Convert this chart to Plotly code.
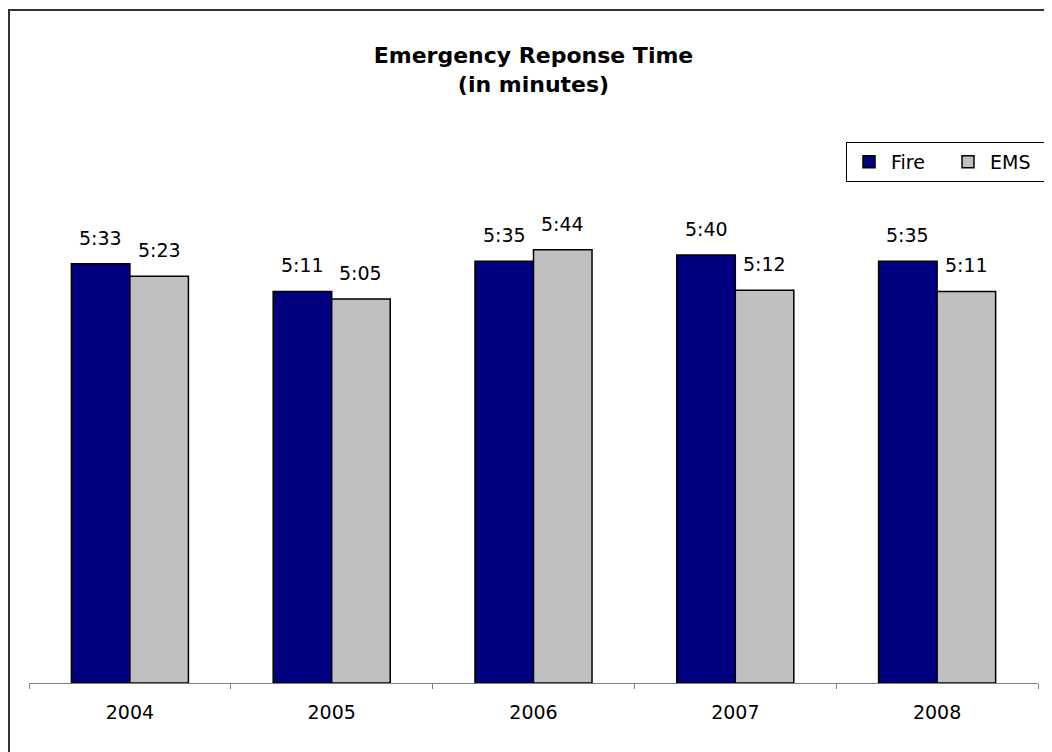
import plotly.graph_objects as go

years = ["2004", "2005", "2006", "2007", "2008"]
fire_seconds = [333, 311, 335, 340, 335]
ems_seconds = [323, 305, 344, 312, 311]
series_names = ["Fire", "EMS"]
title_lines = ["Emergency Reponse Time", "(in minutes)"]


def mmss(s):
    return f"{s // 60}:{s % 60:02d}"


W, H = 1052, 752
ML, MR, MT, MB = 21, 22, 92, 77
BARGAP = 0.42
YMAX = 463
FONT = "DejaVu Sans"

fig = go.Figure()
fig.add_trace(go.Bar(x=years, y=fire_seconds, name=series_names[0],
                     marker=dict(color="#000080", line=dict(color="#000000", width=1.5))))
fig.add_trace(go.Bar(x=years, y=ems_seconds, name=series_names[1],
                     marker=dict(color="#C0C0C0", line=dict(color="#000000", width=1.5))))

plot_w = W - ML - MR
plot_h = H - MT - MB
bar_w = plot_w / len(years) * (1 - BARGAP) / 2
annotations = []
for vals, sign in ((fire_seconds, -1), (ems_seconds, 1)):
    for i, v in enumerate(vals):
        annotations.append(dict(x=i, y=v, xref="x", yref="y", text=mmss(v),
                                showarrow=False, yanchor="bottom", xanchor="center",
                                xshift=sign * bar_w / 2, yshift=13,
                                font=dict(family=FONT, size=19, color="#000")))

fig.update_layout(
    width=W, height=H,
    margin=dict(l=ML, r=MR, t=MT, b=MB, autoexpand=False),
    paper_bgcolor="white", plot_bgcolor="white",
    barmode="group", bargap=BARGAP, bargroupgap=0,
    font=dict(family=FONT, size=19, color="#000"),
    title=dict(text="<b>" + title_lines[0] + "<br>" + title_lines[1] + "</b>",
               x=0.5, xref="paper", y=(H - 55) / H, yanchor="middle",
               font=dict(family=FONT, size=22, color="#000")),
    showlegend=True,
    legend=dict(orientation="h", x=(838 - ML) / plot_w, xanchor="left",
                y=(H - MB - 134) / plot_h, yanchor="top",
                bordercolor="#000", borderwidth=1, bgcolor="white",
                font=dict(family=FONT, size=19, color="#000"),
                itemwidth=34,
                entrywidth=50, entrywidthmode="pixels", traceorder="normal"),
    xaxis=dict(type="category", range=[-0.5, len(years) - 0.5], autorange=False,
               showline=True, linecolor="#808080", linewidth=1,
               ticks="outside", tickson="boundaries", ticklen=5, tickcolor="#808080",
               tickwidth=1, showgrid=False, ticklabelstandoff=12, tickangle=0,
               automargin=False,
               tickfont=dict(family=FONT, size=19, color="#000")),
    yaxis=dict(range=[0, YMAX], autorange=False, visible=False, showgrid=False),
    annotations=annotations,
    shapes=[dict(type="rect", xref="paper", yref="paper",
                 x0=(1 - ML) / plot_w, x1=1.2,
                 y0=-0.3, y1=(H - MB - 2) / plot_h,
                 line=dict(color="#333333", width=2), fillcolor="rgba(0,0,0,0)",
                 layer="below")],
)

fig.write_html("out.html")
